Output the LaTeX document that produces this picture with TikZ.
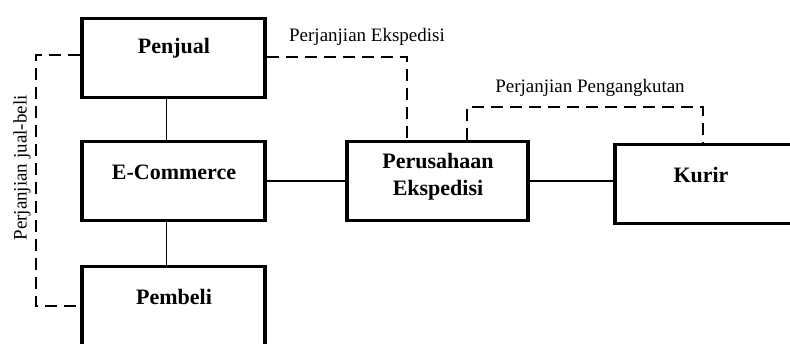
\documentclass[tikz,border=0pt]{standalone}
\usepackage{fontspec}
\setmainfont{Liberation Serif}
\begin{document}
\begin{tikzpicture}[x=1pt,y=-1pt,
  box/.style={draw,line width=3.5pt,minimum width=183pt,minimum height=79pt,inner sep=0pt},
  title/.style={font=\fontsize{22}{26}\selectfont\bfseries,inner sep=0pt,align=center},
  lbl/.style={font=\fontsize{19}{22}\selectfont,inner sep=0pt},
  conn/.style={line width=1.4pt},
  dashline/.style={line width=1.6pt,dash pattern=on 12pt off 7pt}]
\useasboundingbox (0,0) rectangle (790,343);
\clip (0,0) rectangle (790,343);
% boxes
\node[box] (penjual) at (173.5,58) {};
\node[box] (ecom) at (173.5,181) {};
\node[box] (pembeli) at (173.5,306) {};
\node[box,minimum width=181pt] (peru) at (437.5,181) {};
\node[box,minimum width=178pt] (kurir) at (704,184) {};
% titles
\node[title] (tpenjual) at (174,48) {Penjual};
\node[title] (tecom) at (174,172) {E-Commerce};
\node[title] (tpembeli) at (174,297) {Pembeli};
\node[title] (tperu) at (438,177) {Perusahaan\\[1pt]Ekspedisi};
\node[title] (tkurir) at (701,175) {Kurir};
% solid connectors
\draw[conn] ([xshift=-7pt]penjual.south) -- ([xshift=-7pt]ecom.north);
\draw[conn] ([xshift=-7pt]ecom.south) -- ([xshift=-7pt]pembeli.north);
\draw[conn] (ecom.east) -- (peru.west);
\draw[conn] (peru.east) -- (peru.east -| kurir.west);
% dashed connectors
\draw[dashline] ([yshift=3pt]penjual.west) -- ++(-44,0) |- (pembeli.west);
\draw[dashline] ([yshift=1pt]penjual.east) -| ([xshift=-30.5pt]peru.north);
\draw[dashline] ([xshift=29.5pt]peru.north) -- ++(0,-33) -| ([xshift=-1pt]kurir.north);
% labels
\node[lbl,rotate=90] (ljb) at (22,168) {Perjanjian jual-beli};
\node[lbl] (lek) at (367,37) {Perjanjian Ekspedisi};
\node[lbl] (lpg) at (590,88) {Perjanjian Pengangkutan};
\end{tikzpicture}
\end{document}
